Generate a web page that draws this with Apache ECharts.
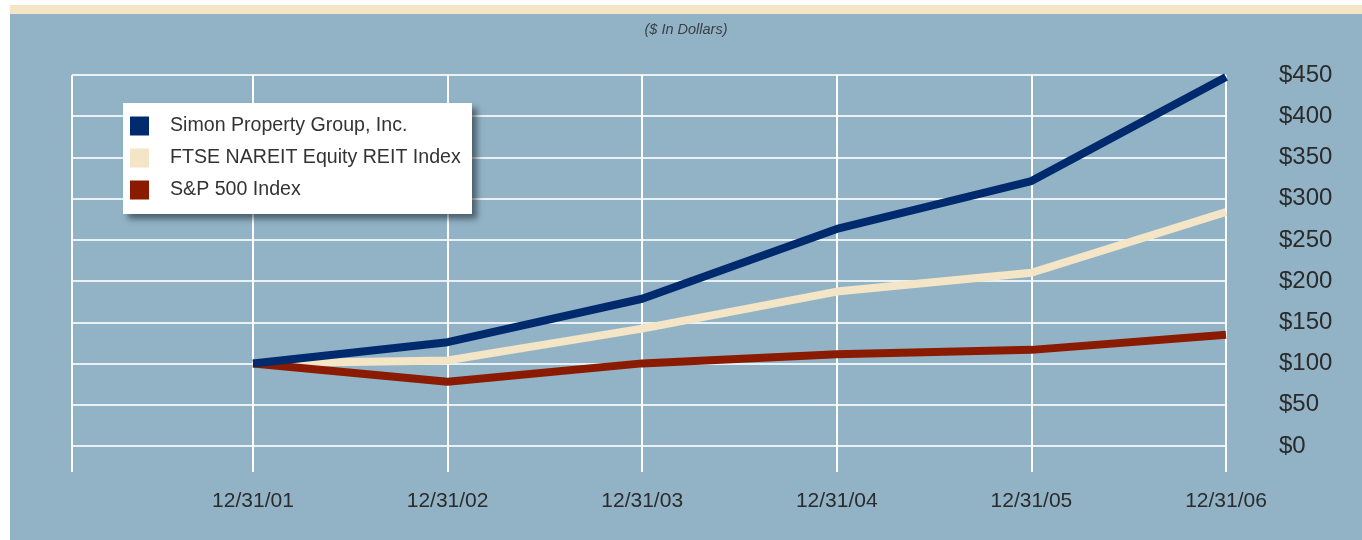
<!DOCTYPE html>
<html>
<head>
<meta charset="utf-8">
<script src="https://cdn.jsdelivr.net/npm/echarts@6/dist/echarts.min.js"></script>
<style>
  html, body { margin: 0; padding: 0; background: #fff; }
  #main { width: 1362px; height: 540px; }
</style>
</head>
<body>
<div id="main"></div>
<script>
const categories = ["12/31/01", "12/31/02", "12/31/03", "12/31/04", "12/31/05", "12/31/06"];
const simon = [100, 125.9, 178.6, 263.3, 321.4, 447.5];
const reit = [100, 103.8, 142.4, 187.3, 210.1, 283.8];
const sp500 = [100, 77.9, 100.2, 111.2, 116.6, 135.0];
const yTicks = [0, 50, 100, 150, 200, 250, 300, 350, 400, 450];

const font = "Liberation Sans";
const toPoints = (vals) => vals.map((v, i) => [i, v]);

var chart = echarts.init(document.getElementById("main"));

const option = {
  backgroundColor: "#fff",
  animation: false,
  graphic: [
    { type: "rect", z: -10, shape: { x: 10, y: 14, width: 1352, height: 526 }, style: { fill: "#92b3c6" } },
    { type: "rect", z: -10, shape: { x: 10, y: 5, width: 1352, height: 9 }, style: { fill: "#f3e5c6" } },
    {
      type: "text",
      x: 686,
      y: 30,
      style: {
        text: "($ In Dollars)",
        align: "center",
        verticalAlign: "middle",
        font: "italic 14.5px 'Liberation Sans'",
        fill: "#3a3f44",
      },
    },
    {
      type: "rect",
      z: 4,
      shape: { x: 123, y: 103, width: 349, height: 111 },
      style: { fill: "#fff", shadowBlur: 6, shadowOffsetX: 5, shadowOffsetY: 5, shadowColor: "rgba(20,30,40,0.55)" },
    },
  ],
  legend: {
    orient: "vertical",
    left: 130,
    top: 116,
    padding: 0,
    z: 6,
    itemWidth: 19,
    itemHeight: 19,
    itemGap: 12,
    icon: "rect",
    selectedMode: false,
    textStyle: { fontFamily: font, fontSize: 19.6, lineHeight: 20, color: "#333", padding: [0, 0, 0, 16] },
    data: ["Simon Property Group, Inc.", "FTSE NAREIT Equity REIT Index", "S&P 500 Index"],
  },
  grid: { left: 72, right: 136, top: 75, bottom: 94 },
  xAxis: {
    type: "value",
    min: -0.93,
    max: categories.length - 1,
    axisLine: { show: false },
    axisTick: {
      show: true,
      length: 26,
      customValues: [-0.93].concat(categories.map((c, i) => i)),
      lineStyle: { color: "#fff", width: 2 },
    },
    splitLine: { show: true, lineStyle: { color: "#fff", width: 2 } },
    axisLabel: {
      customValues: categories.map((c, i) => i),
      formatter: (v) => categories[Math.round(v)] || "",
      margin: 45,
      fontFamily: font,
      fontSize: 21,
      color: "#2b2b2b",
    },
  },
  yAxis: {
    type: "value",
    position: "right",
    min: yTicks[0],
    max: yTicks[yTicks.length - 1],
    interval: 50,
    axisLine: { show: false },
    axisTick: { show: false },
    splitLine: { lineStyle: { color: "#eaf1f5", width: 2 } },
    axisLabel: {
      margin: 53,
      align: "left",
      fontFamily: font,
      fontSize: 24,
      color: "#2b2b2b",
      formatter: (v) => "$" + v,
    },
  },
  series: [
    {
      name: "Simon Property Group, Inc.",
      type: "line",
      data: toPoints(simon),
      showSymbol: false,
      z: 4,
      color: "#002a6e",
      lineStyle: { width: 8, color: "#002a6e" },
    },
    {
      name: "FTSE NAREIT Equity REIT Index",
      type: "line",
      data: toPoints(reit),
      showSymbol: false,
      z: 2,
      color: "#f3e5c5",
      lineStyle: { width: 8, color: "#f3e5c5" },
    },
    {
      name: "S&P 500 Index",
      type: "line",
      data: toPoints(sp500),
      showSymbol: false,
      z: 3,
      color: "#8a1b00",
      lineStyle: { width: 8, color: "#8a1b00" },
    },
  ],
};
option && chart.setOption(option);
</script>
</body>
</html>
